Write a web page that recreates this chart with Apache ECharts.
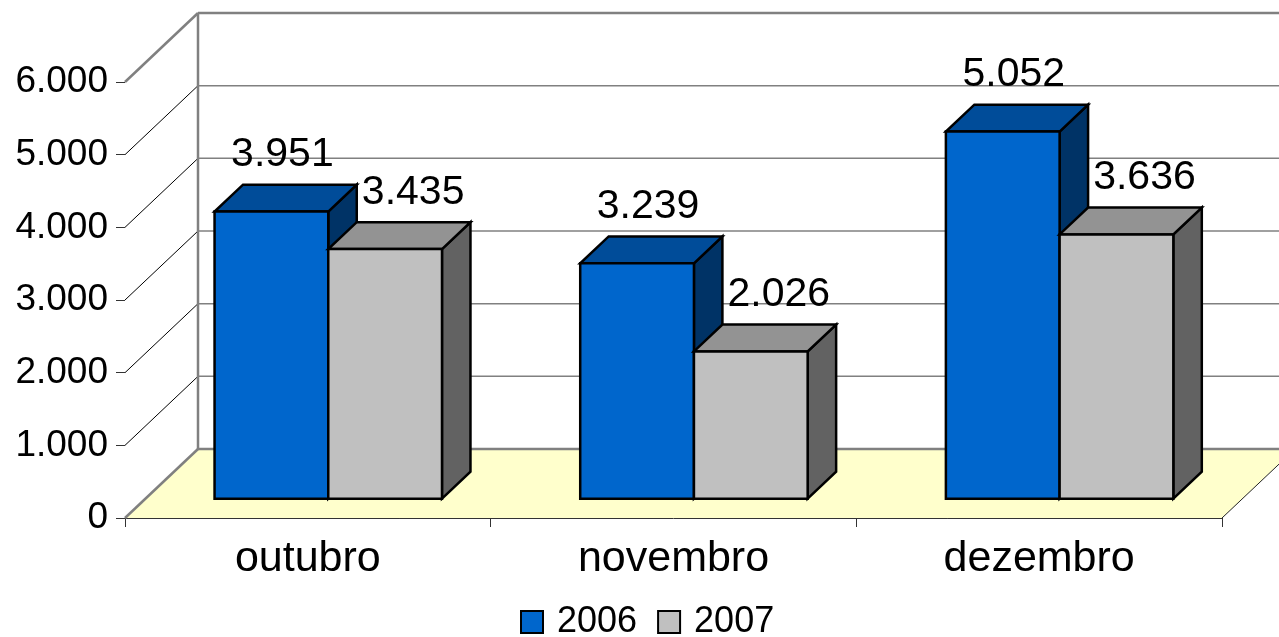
<!DOCTYPE html>
<html>
<head>
<meta charset="utf-8">
<script src="https://cdn.jsdelivr.net/npm/echarts@6/dist/echarts.min.js"></script>
<style>
html,body{margin:0;padding:0;background:#fff;}
#chart{width:1279px;height:637px;}
</style>
</head>
<body>
<div id="chart"></div>
<script>
// ---- data ----
const categories = ['outubro', 'novembro', 'dezembro'];
const seriesNames = ['2006', '2007'];
const values2006 = [3951, 3239, 5052];
const values2007 = [3435, 2026, 3636];
const yTicks = [0, 1000, 2000, 3000, 4000, 5000, 6000];

// ---- styling / geometry ----
const FONT = '"Liberation Sans", Arial, Helvetica, sans-serif';
const DX = 73, DY = -69;            // depth of the 3D box (pixels)
const BAR_FRONT = 0.28;             // depth fraction of the bar front face
const BAR_DEPTH = 0.39;             // depth fraction of bar thickness
const BAR_W = 0.311;                // bar width as fraction of category band
const palettes = [
  {front: '#0066CC', top: '#004C99', side: '#003366'},
  {front: '#C0C0C0', top: '#939393', side: '#626262'}
];
const labelDx = [11, 28];

function fmt(v) {
  return String(v).replace(/\B(?=(\d{3})+(?!\d))/g, '.');
}

const chart = echarts.init(document.getElementById('chart'), null, {renderer: 'canvas'});

function wallsRender(params, api) {
  const cs = params.coordSys;
  const L = cs.x, R = cs.x + cs.width, T = cs.y, B = cs.y + cs.height;
  const ch = [];
  ch.push({type: 'polygon', shape: {points: [[L, B], [L + DX, B + DY], [L + DX, T + DY], [L, T]]}, style: {fill: '#fff'}});
  ch.push({type: 'rect', shape: {x: L + DX, y: T + DY, width: R - L, height: B - T}, style: {fill: '#fff'}});
  ch.push({type: 'polygon', shape: {points: [[L, B], [R, B], [R + DX, B + DY], [L + DX, B + DY]]}, style: {fill: '#FFFFCC'}});
  const maxV = yTicks[yTicks.length - 1];
  yTicks.forEach(function (v) {
    const y = api.coord([0, v])[1];
    const edge = (v === 0 || v === maxV);
    ch.push({type: 'line', shape: {x1: L + DX, y1: y + DY, x2: R + DX + 40, y2: y + DY},
      style: {stroke: '#808080', lineWidth: edge ? 2.5 : 1.5}});
    ch.push({type: 'line', shape: {x1: L, y1: y, x2: L + DX, y2: y + DY},
      style: {stroke: edge ? '#808080' : '#000', lineWidth: edge ? 2.5 : 1}});
  });
  ch.push({type: 'line', shape: {x1: L + DX, y1: T + DY, x2: L + DX, y2: B + DY}, style: {stroke: '#808080', lineWidth: 2.5}});
  ch.push({type: 'line', shape: {x1: R, y1: B, x2: R + DX, y2: B + DY}, style: {stroke: '#222', lineWidth: 1}});
  return {type: 'group', children: ch};
}

function barRender(s) {
  return function (params, api) {
    const i = api.value(0), v = api.value(1);
    const p0 = api.coord([i, 0]), p1 = api.coord([i, v]);
    const band = api.size([1, 0])[0];
    const w = band * BAR_W;
    const fx = DX * BAR_FRONT, fy = DY * BAR_FRONT;
    const bx = DX * BAR_DEPTH, by = DY * BAR_DEPTH;
    const c = p0[0] + fx;
    const x0 = s === 0 ? c - w : c, x1 = x0 + w;
    const yb = p0[1] + fy, yt = p1[1] + fy;
    const pal = palettes[s];
    const st = {stroke: '#000', lineWidth: 2.5, lineJoin: 'miter'};
    return {type: 'group', children: [
      {type: 'polygon', shape: {points: [[x1, yt], [x1 + bx, yt + by], [x1 + bx, yb + by], [x1, yb]]},
        style: Object.assign({fill: pal.side}, st)},
      {type: 'polygon', shape: {points: [[x0, yt], [x1, yt], [x1 + bx, yt + by], [x0 + bx, yt + by]]},
        style: Object.assign({fill: pal.top}, st)},
      {type: 'rect', shape: {x: x0, y: yt, width: w, height: yb - yt},
        style: Object.assign({fill: pal.front}, st)},
      {type: 'text', z2: 100, style: {text: fmt(v), x: (x0 + x1) / 2 + labelDx[s], y: yt + by - 9,
        align: 'center', verticalAlign: 'bottom', fill: '#000', font: '41px ' + FONT}}
    ]};
  };
}

const option = {
  backgroundColor: '#fff',
  animation: false,
  grid: {left: 125, right: 57, top: 82, bottom: 119, containLabel: false},
  xAxis: {
    type: 'category',
    data: categories,
    boundaryGap: true,
    axisLine: {show: true, lineStyle: {color: '#333', width: 1}},
    axisTick: {show: true, interval: 0, length: 9, lineStyle: {color: '#333', width: 1}},
    axisLabel: {fontSize: 43, fontFamily: FONT, color: '#000', margin: 20, interval: 0},
    splitLine: {show: false}
  },
  yAxis: {
    type: 'value',
    min: 0, max: 6000, interval: 1000,
    axisLine: {show: true, lineStyle: {color: '#000', width: 1}},
    axisTick: {show: true, length: 9, lineStyle: {color: '#333', width: 1}},
    axisLabel: {fontSize: 37, fontFamily: FONT, color: '#000', margin: 17, formatter: function (v) { return fmt(v); }},
    splitLine: {show: false}
  },
  legend: {
    data: seriesNames,
    left: 520, top: 604, padding: 0,
    icon: 'rect',
    itemWidth: 22, itemHeight: 22, itemGap: 20,
    itemStyle: {borderColor: '#000', borderWidth: 2},
    textStyle: {fontSize: 36, fontFamily: FONT, color: '#000', padding: [0, 0, 0, 9]}
  },
  series: [
    {type: 'custom', name: '_walls', silent: true, z: 1, renderItem: wallsRender, data: [[0, 0]]},
    {type: 'custom', name: seriesNames[0], z: 2, itemStyle: {color: palettes[0].front},
      renderItem: barRender(0), data: values2006.map(function (v, i) { return [i, v]; })},
    {type: 'custom', name: seriesNames[1], z: 3, itemStyle: {color: palettes[1].front},
      renderItem: barRender(1), data: values2007.map(function (v, i) { return [i, v]; })}
  ]
};
chart.setOption(option);
</script>
</body>
</html>
